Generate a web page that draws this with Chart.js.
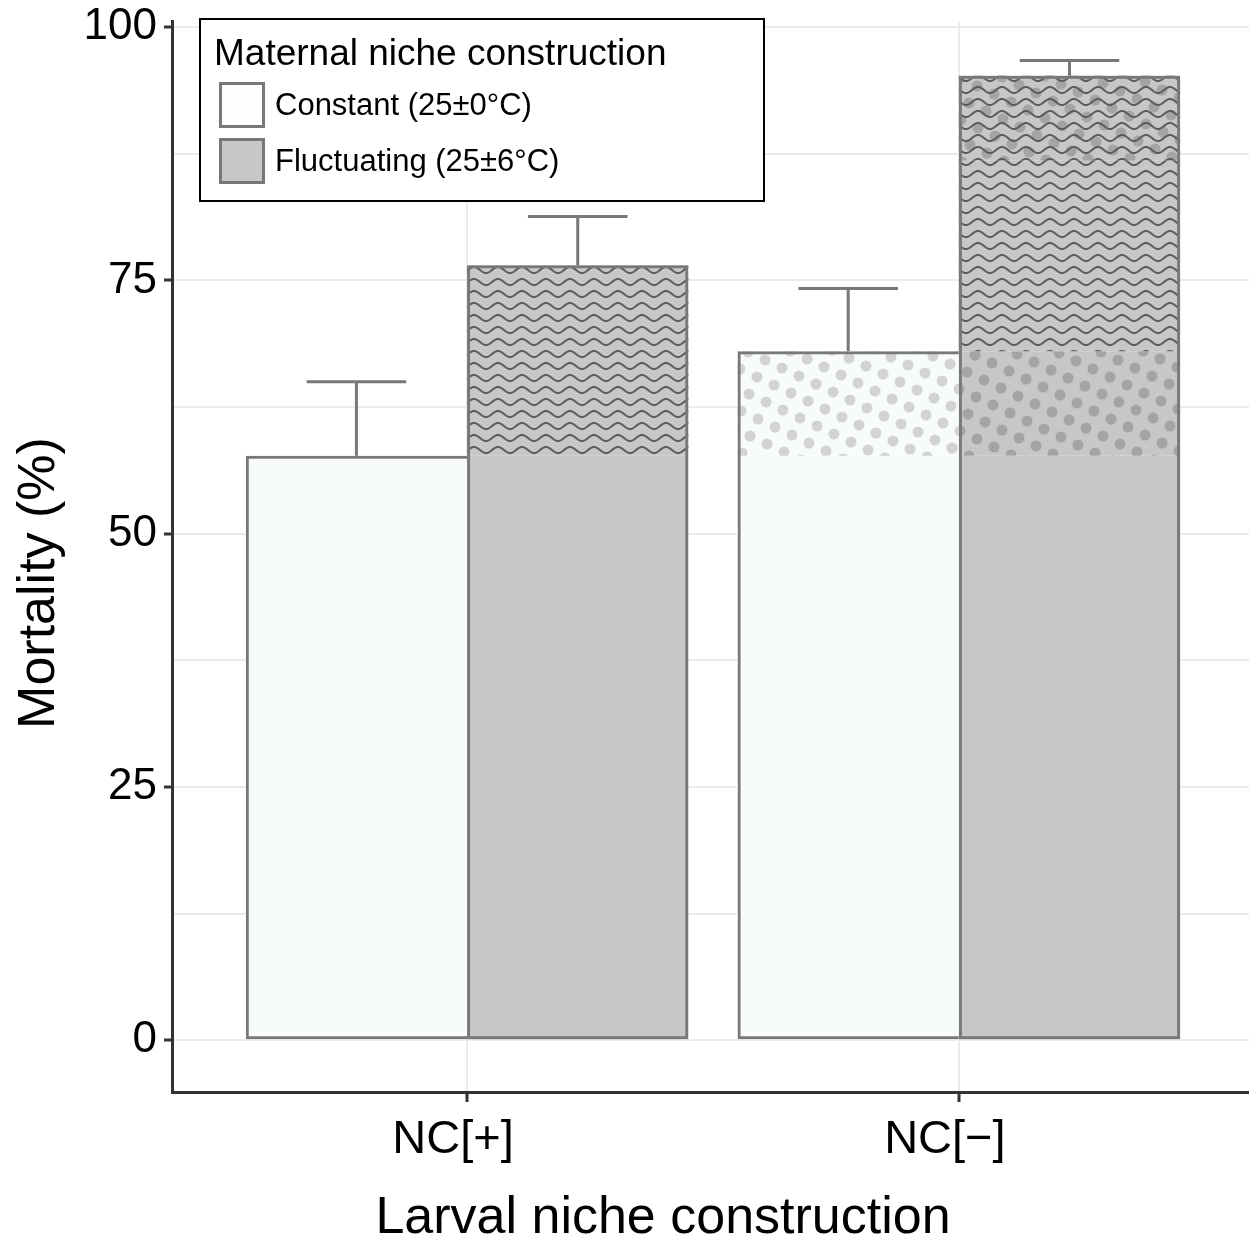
<!DOCTYPE html>
<html>
<head>
<meta charset="utf-8">
<title>Mortality by larval and maternal niche construction</title>
<script src="https://cdn.jsdelivr.net/npm/chart.js@4.4.1/dist/chart.umd.min.js"></script>
<style>
  html, body { margin: 0; padding: 0; background: #fff; overflow: hidden; }
  #chart { display: block; }
</style>
</head>
<body>
<canvas id="chart" width="1249" height="1241"></canvas>
<script>
// Data
const groupLabels = ['NC[+]', 'NC[−]'];
const groupPositions = [1, 2];
const treatmentLabels = ['Constant (25±0°C)', 'Fluctuating (25±6°C)'];
const constantMortality = [57.7, 68.0];
const fluctuatingMortality = [76.5, 95.2];
const constantErrorTop = [65.0, 74.2];
const fluctuatingErrorTop = [81.3, 96.7];
const yTickValues = [0, 12.5, 25, 37.5, 50, 62.5, 75, 87.5, 100];

// Colours
const LIGHT = '#f8fcf9';
const GREY = '#c7c7c7';
const EDGE = '#787878';
const AXIS = '#333333';
const GRID = '#ebebeb';
const FONT = "'Liberation Sans', Arial, Helvetica, sans-serif";

Chart.defaults.font.family = FONT;
Chart.defaults.color = '#111';

const canvas = document.getElementById('chart');
const ctx = canvas.getContext('2d');

// Pattern tiles
function dotPattern(bg, dot) {
  // rotated square lattice, periodic over p*p + q*q pixels
  const p = 17, q = 8, n = p * p + q * q, r = 5.5;
  const c = document.createElement('canvas');
  c.width = n; c.height = n;
  const g = c.getContext('2d');
  if (bg) { g.fillStyle = bg; g.fillRect(0, 0, n, n); }
  g.fillStyle = dot;
  for (let i = -5; i < 35; i++) {
    for (let j = -15; j < 25; j++) {
      const x = p * i - q * j, y = q * i + p * j;
      if (x < -r || y < -r || x > n + r || y > n + r) continue;
      g.beginPath();
      g.arc(x, y, r, 0, Math.PI * 2);
      g.fill();
    }
  }
  return ctx.createPattern(c, 'repeat');
}

function wavePattern(bg) {
  const w = 24, h = 12;
  const c = document.createElement('canvas');
  c.width = w; c.height = h;
  const g = c.getContext('2d');
  if (bg) { g.fillStyle = bg; g.fillRect(0, 0, w, h); }
  g.strokeStyle = '#5c5c5c';
  g.lineWidth = 2;
  g.beginPath();
  for (let x = -1; x <= w + 1; x += 0.5) {
    const y = h / 2 + 3 * Math.sin(2 * Math.PI * x / w);
    if (x === -1) g.moveTo(x, y); else g.lineTo(x, y);
  }
  g.stroke();
  return ctx.createPattern(c, 'repeat');
}

const lightDots = dotPattern(LIGHT, '#d3d3d3');
const darkDots = dotPattern(GREY, '#a4a4a4');
const greyWaves = wavePattern(GREY);
const bareWaves = wavePattern(null);

// Bands inside the bars (additive decomposition)
const base = constantMortality[0];
const larvalTop = constantMortality[1];
const maternalEffect = fluctuatingMortality[0] - base;
const interactionStart = larvalTop + maternalEffect;

const pt = (i, lo, hi) => ({ x: groupPositions[i], y: [lo, hi] });

const datasets = [
  { // outlines
    label: treatmentLabels[0], stack: 'c', order: 0,
    data: constantMortality.map((v, i) => pt(i, 0, v)),
    backgroundColor: 'rgba(0,0,0,0)', borderColor: EDGE,
    borderWidth: { top: 3, left: 3, bottom: 3, right: 0 }, borderSkipped: false
  },
  {
    label: treatmentLabels[1], stack: 'f', order: 0,
    data: fluctuatingMortality.map((v, i) => pt(i, 0, v)),
    backgroundColor: 'rgba(0,0,0,0)', borderColor: EDGE,
    borderWidth: 3, borderSkipped: false
  },
  { // interaction band: waves over dots
    label: 'interaction waves', stack: 'f', order: 1,
    data: [pt(1, interactionStart, fluctuatingMortality[1])],
    backgroundColor: bareWaves, borderWidth: 0
  },
  {
    label: 'interaction dots', stack: 'f', order: 2,
    data: [pt(1, interactionStart, fluctuatingMortality[1])],
    backgroundColor: darkDots, borderWidth: 0
  },
  { // maternal effect band
    label: 'maternal', stack: 'f', order: 3,
    data: [pt(0, base, fluctuatingMortality[0]), pt(1, larvalTop, interactionStart)],
    backgroundColor: greyWaves, borderWidth: 0
  },
  { // larval effect band
    label: 'larval constant', stack: 'c', order: 3,
    data: [pt(1, base, larvalTop)],
    backgroundColor: lightDots, borderWidth: 0
  },
  {
    label: 'larval fluctuating', stack: 'f', order: 3,
    data: [pt(1, base, larvalTop)],
    backgroundColor: darkDots, borderWidth: 0
  },
  { // base level
    label: 'base constant', stack: 'c', order: 4,
    data: groupPositions.map((g, i) => pt(i, 0, base)),
    backgroundColor: LIGHT, borderWidth: 0
  },
  {
    label: 'base fluctuating', stack: 'f', order: 4,
    data: groupPositions.map((g, i) => pt(i, 0, base)),
    backgroundColor: GREY, borderWidth: 0
  }
];

// Error bars (upper only)
const errorBars = {
  id: 'errorBars',
  afterDatasetsDraw(chart) {
    const c = chart.ctx, y = chart.scales.y;
    [constantErrorTop, fluctuatingErrorTop].forEach((tops, di) => {
      chart.getDatasetMeta(di).data.forEach((bar, j) => {
        const yTop = y.getPixelForValue(tops[j]);
        const half = bar.width * 0.225;
        c.save();
        c.strokeStyle = EDGE;
        c.lineWidth = 3;
        c.beginPath();
        c.moveTo(bar.x, bar.y);
        c.lineTo(bar.x, yTop);
        c.moveTo(bar.x - half, yTop);
        c.lineTo(bar.x + half, yTop);
        c.stroke();
        c.restore();
      });
    });
  }
};

// Axis titles and the boxed legend
const annotations = {
  id: 'annotations',
  afterDraw(chart) {
    const c = chart.ctx;
    c.save();
    c.fillStyle = '#000';
    c.font = '52px ' + FONT;
    c.textAlign = 'center';
    c.textBaseline = 'alphabetic';
    c.fillText('Larval niche construction', 663, 1233);
    c.save();
    c.translate(40, 583);
    c.rotate(-Math.PI / 2);
    c.textBaseline = 'middle';
    c.fillText('Mortality (%)', 0, 0);
    c.restore();

    // legend
    c.fillStyle = '#fff';
    c.fillRect(199, 18, 566, 184);
    c.strokeStyle = '#000';
    c.lineWidth = 2;
    c.strokeRect(200, 19, 564, 182);
    c.fillStyle = '#000';
    c.textAlign = 'left';
    c.font = '37px ' + FONT;
    c.fillText('Maternal niche construction', 214, 65);
    const keys = [LIGHT, GREY];
    c.font = '31px ' + FONT;
    treatmentLabels.forEach((t, i) => {
      const top = 82 + i * 56;
      c.fillStyle = keys[i] === LIGHT ? '#fdfdfd' : keys[i];
      c.fillRect(220, top + 1, 44, 44);
      c.strokeStyle = EDGE;
      c.lineWidth = 3;
      c.strokeRect(220.5, top + 1.5, 43, 43);
      c.fillStyle = '#000';
      c.fillText(t, 275, top + 33);
    });
    c.restore();
  }
};

new Chart(ctx, {
  type: 'bar',
  data: { datasets },
  plugins: [errorBars, annotations],
  options: {
    responsive: false,
    animation: false,
    devicePixelRatio: 1,
    layout: { padding: { top: 21, right: 0, bottom: 0, left: 0 } },
    datasets: { bar: { categoryPercentage: 0.9, barPercentage: 1 } },
    plugins: { legend: { display: false }, tooltip: { enabled: false } },
    scales: {
      x: {
        type: 'linear',
        stacked: true,
        offset: false,
        min: 0.4,
        max: 2.59,
        afterBuildTicks: (s) => { s.ticks = groupPositions.map(v => ({ value: v })); },
        afterFit: (s) => {
          s.height = 149;
          s.paddingLeft = 0; s.paddingRight = 0;
        },
        grid: {
          offset: false, color: GRID, lineWidth: 2,
          tickColor: AXIS, tickWidth: 3, tickLength: 10
        },
        border: { display: true, color: AXIS, width: 3 },
        ticks: {
          autoSkip: false, maxRotation: 0, padding: 10, labelOffset: -14,
          color: '#000', font: { size: 47 },
          callback: (v) => groupLabels[groupPositions.indexOf(v)] || ''
        }
      },
      y: {
        stacked: false,
        min: -5.1,
        max: 100.6,
        afterBuildTicks: (s) => { s.ticks = yTickValues.map(v => ({ value: v })); },
        afterFit: (s) => {
          s.width = 172;
          s.paddingTop = 0; s.paddingBottom = 0;
        },
        grid: {
          color: GRID, lineWidth: 2,
          tickColor: (c) => (c.tick && c.tick.value % 25 === 0 ? AXIS : 'rgba(0,0,0,0)'),
          tickWidth: 3, tickLength: 8
        },
        border: { display: true, color: AXIS, width: 3 },
        ticks: {
          padding: 7, color: '#000', font: { size: 44 },
          callback: (v) => (v % 25 === 0 ? String(v) : '')
        }
      }
    }
  }
});
</script>
</body>
</html>
